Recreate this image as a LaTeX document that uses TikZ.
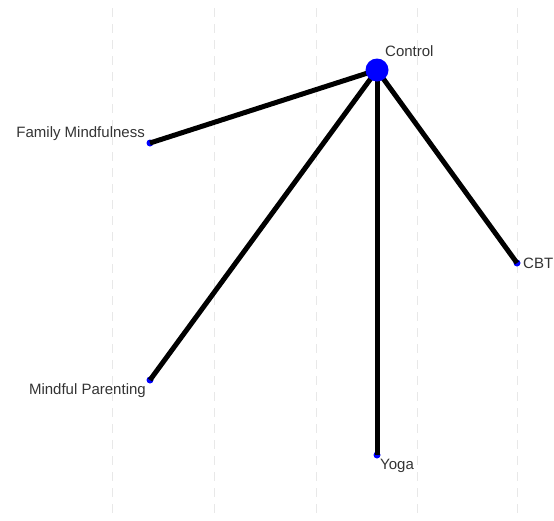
\documentclass[tikz,border=0pt]{standalone}
\usepackage{fontspec}
\setmainfont{Liberation Sans}
\begin{document}
\begin{tikzpicture}[x=1pt,y=-1pt,
  grid/.style={draw=black!9,line width=0.8pt,dash pattern=on 9pt off 7pt},
  edge/.style={line width=5pt,draw=black},
  small/.style={circle,fill=blue,inner sep=0pt,minimum size=7pt},
  big/.style={circle,fill=blue,inner sep=0pt,minimum size=23pt},
  lab/.style={font=\fontsize{15}{17}\selectfont,text=black!80,inner sep=0pt}]
\useasboundingbox (0,0) rectangle (554,520);
\foreach \gx in {112,214,316,417,517} \draw[grid] (\gx,8) -- (\gx,520);
\coordinate (c) at (377,70);
\node[small] (fm) at (150,143) {};
\node[small] (mp) at (150,380) {};
\node[small] (cbt) at (517,263) {};
\node[small] (yoga) at (377,455) {};
\draw[edge] (c) -- (fm.center);
\draw[edge] (c) -- (mp.center);
\draw[edge] (c) -- (cbt.center);
\draw[edge] (c) -- (yoga.center);
\node[big] (ctrl) at (c) {};
\node[lab,anchor=west] (lctrl) at (385,51) {Control};
\node[lab,anchor=east] (lfm) at (145,134) {Family Mindfulness};
\node[lab,anchor=east] (lmp) at (146,391) {Mindful Parenting};
\node[lab,anchor=west] (lcbt) at (523,263) {CBT};
\node[lab,anchor=west] (lyoga) at (380,466) {Yoga};
\end{tikzpicture}
\end{document}
